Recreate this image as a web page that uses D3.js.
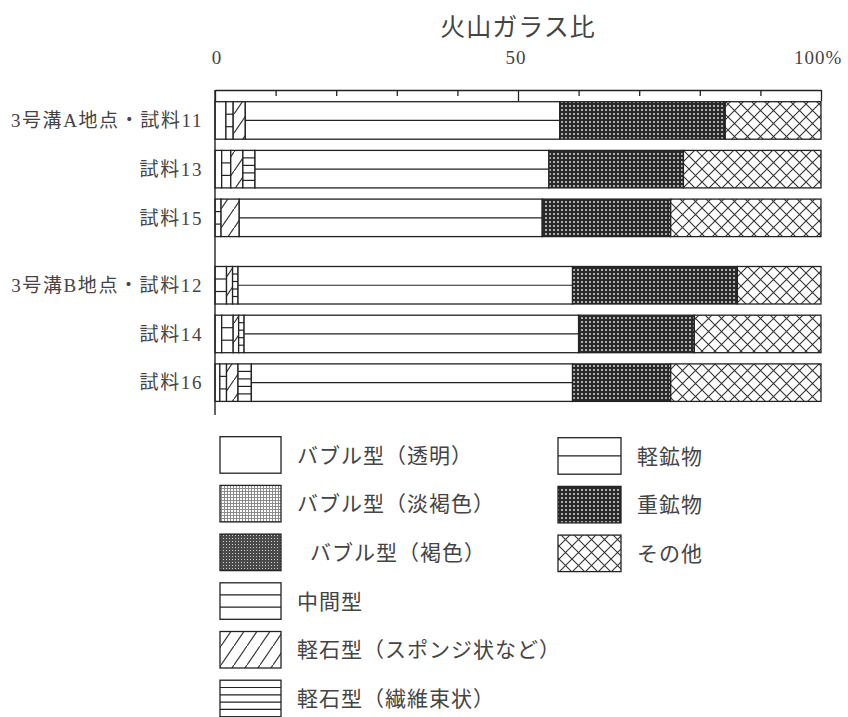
<!DOCTYPE html>
<html><head><meta charset="utf-8">
<script src="https://cdn.jsdelivr.net/npm/d3@7"></script>
<style>body{margin:0;background:#fff}</style></head>
<body>
<svg id="chart" width="848" height="717"></svg>
<script>
// ---------- data ----------
const title = "火山ガラス比";
const samples = ["3号溝A地点・試料11", "試料13", "試料15", "3号溝B地点・試料12", "試料14", "試料16"];
const sites = ["A", "A", "A", "B", "B", "B"];
const seriesKeys = ["clear", "paleBrown", "brown", "middle", "sponge", "fibrous", "light", "heavy", "other"];
const seriesLabels = ["バブル型（透明）", "バブル型（淡褐色）", "バブル型（褐色）", "中間型",
  "軽石型（スポンジ状など）", "軽石型（繊維束状）", "軽鉱物", "重鉱物", "その他"];
const clearBubble     = [1.8, 1.1, 0.0, 0.0, 1.1, 0.8];
const paleBrownBubble = [0.0, 0.0, 0.0, 0.0, 0.0, 0.0];
const brownBubble     = [0.0, 0.0, 0.0, 0.0, 0.0, 0.0];
const middleType      = [1.2, 1.5, 1.0, 1.9, 1.9, 1.1];
const spongePumice    = [2.0, 2.0, 3.0, 1.0, 0.9, 1.9];
const fibrousPumice   = [0.0, 2.0, 0.0, 0.9, 0.9, 2.2];
const lightMineral    = [51.9, 48.5, 50.0, 55.2, 55.2, 53.0];
const heavyMineral    = [27.3, 22.2, 21.2, 27.2, 19.1, 16.2];
const others          = [15.8, 22.7, 24.8, 13.8, 20.9, 24.8];
const tickValues = [0, 10, 20, 30, 40, 50, 60, 70, 80, 90, 100];
const majorTicks = [0, 50, 100];
const tickLabels = ["0", "50", "100%"];
const legendLeft = ["clear", "paleBrown", "brown", "middle", "sponge", "fibrous"];
const legendRight = ["light", "heavy", "other"];

// ---------- build table ----------
const seriesValues = [clearBubble, paleBrownBubble, brownBubble, middleType, spongePumice,
  fibrousPumice, lightMineral, heavyMineral, others];
const table = samples.map((s, i) => {
  const row = {sample: s, site: sites[i], idx: i};
  seriesKeys.forEach((k, j) => row[k] = seriesValues[j][i]);
  return row;
});
const stacked = d3.stack().keys(seriesKeys)(table);

// ---------- layout ----------
const svg = d3.select("#chart");
const ink = "#222";
const textCol = "#444";
const jpFont = "'Noto Sans CJK JP', sans-serif";
const mixFont = "'Liberation Serif', 'Noto Sans CJK JP', serif";

const x = d3.scaleLinear().domain([0, 100]).range([215, 821]);
const groupGap = 18.7;
const yBand = d3.scaleBand().domain(d3.range(samples.length))
  .range([101.7, 101.7 + 48.7 * (samples.length - 0.23)]).paddingInner(0.23).paddingOuter(0);
const siteOrder = Array.from(new Set(sites));
const yPos = i => yBand(i) + siteOrder.indexOf(sites[i]) * groupGap;
const bh = yBand.bandwidth();

// ---------- patterns ----------
const defs = svg.append("defs");
let p = defs.append("pattern").attr("id", "pat-pale").attr("patternUnits", "userSpaceOnUse")
  .attr("width", 3).attr("height", 3);
p.append("rect").attr("width", 3).attr("height", 3).attr("fill", "#8c8c8c");
p.append("rect").attr("width", 2).attr("height", 2).attr("fill", "#fff");

p = defs.append("pattern").attr("id", "pat-brown").attr("patternUnits", "userSpaceOnUse")
  .attr("width", 3).attr("height", 3);
p.append("rect").attr("width", 3).attr("height", 3).attr("fill", "#4a4a4a");
p.append("rect").attr("x", 1).attr("y", 1).attr("width", 1).attr("height", 1).attr("fill", "#ccc");

p = defs.append("pattern").attr("id", "pat-heavy").attr("patternUnits", "userSpaceOnUse")
  .attr("width", 4).attr("height", 4);
p.append("rect").attr("width", 4).attr("height", 4).attr("fill", "#2a2a2a");
p.append("circle").attr("cx", 2).attr("cy", 2).attr("r", 1.05).attr("fill", "#d0d0d0");

p = defs.append("pattern").attr("id", "pat-other").attr("patternUnits", "userSpaceOnUse")
  .attr("width", 13).attr("height", 13);
p.append("rect").attr("width", 13).attr("height", 13).attr("fill", "#fff");
p.append("path").attr("d", "M0,0L13,13M13,0L0,13").attr("stroke", "#333").attr("stroke-width", 1.1);

p = defs.append("pattern").attr("id", "pat-sponge").attr("patternUnits", "userSpaceOnUse")
  .attr("width", 13).attr("height", 19);
p.append("rect").attr("width", 13).attr("height", 19).attr("fill", "#fff");
p.append("path").attr("d", "M0,19L13,0").attr("stroke", "#333").attr("stroke-width", 1.2);

const fillFor = {clear: "#fff", paleBrown: "url(#pat-pale)", brown: "url(#pat-brown)",
  middle: "#fff", sponge: "url(#pat-sponge)", fibrous: "#fff", light: "#fff",
  heavy: "url(#pat-heavy)", other: "url(#pat-other)"};
const hLinesFor = {middle: 2, fibrous: 4, light: 1};

function drawBox(g, key, x0, y0, w, h) {
  g.append("rect").attr("x", x0).attr("y", y0).attr("width", w).attr("height", h)
    .attr("fill", fillFor[key]).attr("stroke", ink).attr("stroke-width", 1.3);
  const n = hLinesFor[key] || 0;
  for (let k = 1; k <= n; k++) {
    const yy = y0 + h * k / (n + 1);
    g.append("line").attr("x1", x0).attr("x2", x0 + w).attr("y1", yy).attr("y2", yy)
      .attr("stroke", ink).attr("stroke-width", 1.2);
  }
}

// ---------- bars ----------
const barsG = svg.append("g");
stacked.forEach(layer => {
  layer.forEach((d, i) => {
    const w = x(d[1]) - x(d[0]);
    if (w <= 0) return;
    drawBox(barsG, layer.key, x(d[0]), yPos(i), w, bh);
  });
});

// ---------- axes ----------
const axisY = 90;
const axisG = svg.append("g").attr("transform", `translate(0,${axisY})`)
  .call(d3.axisTop(x).tickValues(tickValues).tickSizeInner(-6).tickSizeOuter(0).tickFormat(""));
axisG.select(".domain").attr("stroke", ink).attr("stroke-width", 1.4);
axisG.selectAll(".tick line").attr("stroke", ink).attr("stroke-width", 1.3)
  .attr("y2", d => majorTicks.includes(d) ? 11 : 6);
svg.append("g").selectAll("text").data(majorTicks).join("text")
  .attr("x", (d, i) => i === majorTicks.length - 1 ? x(d) - 27 : x(d) + (i === 0 ? 2 : -2))
  .attr("y", 64)
  .attr("text-anchor", (d, i) => i === majorTicks.length - 1 ? "start" : "middle")
  .attr("font-family", mixFont).attr("font-size", 19).attr("fill", textCol)
  .attr("letter-spacing", 1)
  .text((d, i) => tickLabels[i]);

// vertical axis line
svg.append("line").attr("x1", x(0)).attr("x2", x(0)).attr("y1", axisY).attr("y2", 415)
  .attr("stroke", ink).attr("stroke-width", 1.4);

// category labels
svg.append("g").selectAll("text").data(samples).join("text")
  .attr("x", 203).attr("y", (d, i) => yPos(i) + bh / 2).attr("dy", "0.36em")
  .attr("text-anchor", "end").attr("font-family", mixFont).attr("font-size", 19)
  .attr("letter-spacing", 1.6).attr("fill", textCol).text(d => d);

// title
svg.append("text").attr("x", x(50)).attr("y", 36).attr("text-anchor", "middle")
  .attr("font-family", jpFont).attr("font-size", 25).attr("letter-spacing", 1)
  .attr("fill", textCol).text(title);

// ---------- legend ----------
const legG = svg.append("g");
const legStep = 48.7, legH = 36.5;
legendLeft.forEach((k, i) => {
  const y0 = 436.7 + i * legStep;
  drawBox(legG, k, 220, y0, 61, legH);
  legG.append("text").attr("x", 297 + (k === "brown" ? 13 : 0)).attr("y", y0 + legH / 2).attr("dy", "0.36em")
    .attr("font-family", jpFont).attr("font-size", 21).attr("letter-spacing", 1)
    .attr("fill", textCol).text(seriesLabels[seriesKeys.indexOf(k)]);
});
legendRight.forEach((k, i) => {
  const y0 = 437.7 + i * legStep;
  drawBox(legG, k, 558, y0, 63, legH);
  legG.append("text").attr("x", 637).attr("y", y0 + legH / 2).attr("dy", "0.36em")
    .attr("font-family", jpFont).attr("font-size", 21).attr("letter-spacing", 1)
    .attr("fill", textCol).text(seriesLabels[seriesKeys.indexOf(k)]);
});
</script>
</body></html>
